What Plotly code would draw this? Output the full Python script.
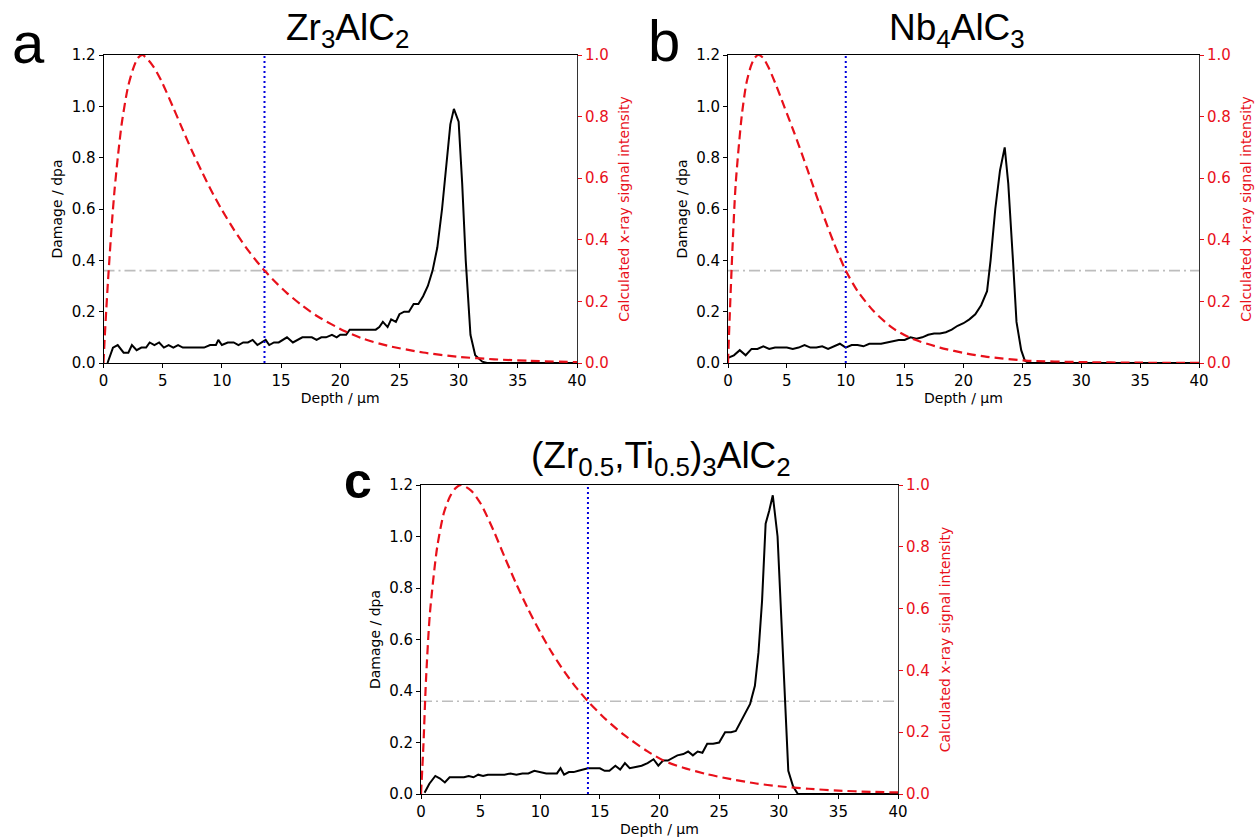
import plotly.graph_objects as go

# ---------------- data ----------------
# Panel a: Zr3AlC2
a_dmg_x = [0.34, 0.8, 1.2, 1.7, 2.1, 2.4, 2.8, 3.2, 3.6, 3.9, 4.3, 4.7, 5.1, 5.5, 5.9, 6.3, 6.7, 7.0, 7.5, 8.0, 8.5,
           9.0, 9.5, 9.7, 10.0, 10.5, 11.0, 11.4, 11.8, 12.2, 12.6, 13.0, 13.4, 13.7, 14.0, 14.4, 14.8, 15.2, 15.5,
           16.0, 16.4, 16.8, 17.2, 17.6, 18.0, 18.4, 18.8, 19.3, 19.7, 20.0, 20.5, 20.8, 21.5, 22.0, 22.5, 23.0,
           23.3, 23.6, 24.0, 24.3, 24.7, 25.0, 25.4, 25.8, 26.2, 26.6, 27.0, 27.4, 27.8, 28.2, 28.6, 29.0, 29.3,
           29.6, 30.0, 30.3, 30.6, 31.0, 31.4, 32.0, 32.4, 35.0, 40.0]
a_dmg_y = [0.0, 0.06, 0.07, 0.04, 0.04, 0.07, 0.05, 0.06, 0.06, 0.08, 0.07, 0.08, 0.06, 0.07, 0.06, 0.07, 0.06, 0.06,
           0.06, 0.06, 0.06, 0.07, 0.07, 0.09, 0.07, 0.08, 0.08, 0.07, 0.08, 0.08, 0.09, 0.07, 0.08, 0.09, 0.07,
           0.08, 0.08, 0.09, 0.10, 0.08, 0.09, 0.10, 0.10, 0.10, 0.09, 0.10, 0.10, 0.11, 0.10, 0.11, 0.11, 0.13,
           0.13, 0.13, 0.13, 0.13, 0.14, 0.16, 0.14, 0.17, 0.16, 0.19, 0.20, 0.20, 0.23, 0.23, 0.26, 0.30, 0.36,
           0.45, 0.60, 0.80, 0.93, 0.99, 0.94, 0.70, 0.40, 0.11, 0.03, 0.005, 0.0, 0.0, 0.0]
a_sig_x = [0.0, 0.1, 0.23, 0.37, 0.54, 0.7, 0.93, 1.2, 1.55, 2.06, 2.5, 2.9, 3.3, 4.17, 4.9, 5.86, 6.7, 7.46, 8.3,
           9.1, 10.0, 11.0, 12.0, 12.8, 13.6, 14.7, 15.5, 16.7, 18.1, 20.4, 22.0, 24.0, 27.0, 30.0, 33.0, 36.0, 40.0]
a_sig_y = [0.0, 0.08, 0.17, 0.26, 0.36, 0.45, 0.56, 0.665, 0.78, 0.895, 0.955, 0.99, 1.0, 0.965, 0.915, 0.832,
           0.757, 0.69, 0.622, 0.56, 0.497, 0.434, 0.377, 0.337, 0.30, 0.256, 0.227, 0.189, 0.151, 0.103, 0.078,
           0.056, 0.034, 0.020, 0.012, 0.007, 0.003]
a_depth_marker = 13.6

# Panel b: Nb4AlC3
b_dmg_x = [0.0, 0.5, 1.0, 1.5, 2.0, 2.5, 3.0, 3.5, 4.0, 4.5, 5.0, 5.5, 6.0, 6.5, 7.0, 7.5, 8.0, 8.5, 9.0, 9.5, 10.0,
           10.5, 11.0, 11.5, 12.0, 13.0, 13.5, 14.0, 14.5, 15.0, 15.5, 16.0, 16.5, 17.0, 17.5, 18.0, 18.5, 19.0,
           19.5, 20.0, 20.5, 21.0, 21.5, 22.0, 22.3, 22.7, 23.1, 23.5, 23.8, 24.2, 24.5, 24.9, 25.2, 25.5, 30.0, 40.0]
b_dmg_y = [0.02, 0.03, 0.05, 0.03, 0.055, 0.055, 0.065, 0.055, 0.06, 0.06, 0.06, 0.055, 0.06, 0.07, 0.06, 0.06,
           0.065, 0.055, 0.065, 0.075, 0.06, 0.07, 0.07, 0.065, 0.075, 0.075, 0.08, 0.085, 0.09, 0.09, 0.10, 0.095,
           0.10, 0.11, 0.115, 0.115, 0.12, 0.13, 0.145, 0.155, 0.17, 0.19, 0.225, 0.28, 0.40, 0.60, 0.75, 0.84,
           0.70, 0.40, 0.16, 0.05, 0.01, 0.0, 0.0, 0.0]
b_sig_x = [0.0, 0.14, 0.37, 0.65, 1.16, 1.56, 1.93, 2.25, 2.58, 3.0, 3.5, 4.0, 4.77, 5.6, 6.47, 7.0, 8.03, 9.0,
           10.0, 11.0, 12.4, 14.0, 15.5, 18.0, 20.5, 22.0, 25.3, 30.0, 35.0, 40.0]
b_sig_y = [0.0, 0.147, 0.364, 0.58, 0.80, 0.908, 0.962, 0.99, 1.0, 0.99, 0.955, 0.91, 0.833, 0.75, 0.658, 0.60,
           0.487, 0.389, 0.30, 0.234, 0.167, 0.113, 0.081, 0.05, 0.029, 0.02, 0.008, 0.003, 0.001, 0.0005]
b_depth_marker = 10.0

# Panel c: (Zr0.5,Ti0.5)3AlC2
c_dmg_x = [0.3, 0.7, 1.2, 1.6, 2.0, 2.4, 2.8, 3.2, 3.6, 4.0, 4.4, 4.8, 5.2, 5.6, 6.0, 6.5, 7.0, 7.5, 8.0, 8.5, 9.0,
           9.5, 10.0, 10.5, 11.0, 11.4, 11.7, 12.0, 12.4, 12.8, 13.2, 13.6, 14.0, 14.5, 15.0, 15.4, 15.8, 16.3,
           16.7, 17.1, 17.5, 18.0, 18.5, 19.0, 19.5, 19.9, 20.3, 20.7, 21.1, 21.5, 22.0, 22.4, 22.8, 23.2, 23.6,
           24.0, 24.5, 25.0, 25.5, 26.0, 26.4, 26.8, 27.2, 27.6, 28.0, 28.3, 28.6, 28.9, 29.2, 29.5, 29.9, 30.2,
           30.5, 30.8, 31.2, 31.6, 35.0, 40.0]
c_dmg_y = [0.005, 0.04, 0.07, 0.06, 0.045, 0.065, 0.065, 0.065, 0.065, 0.07, 0.065, 0.075, 0.07, 0.075, 0.075, 0.075,
           0.075, 0.08, 0.075, 0.08, 0.08, 0.09, 0.085, 0.08, 0.08, 0.08, 0.10, 0.075, 0.085, 0.085, 0.09, 0.095,
           0.10, 0.10, 0.10, 0.09, 0.09, 0.11, 0.095, 0.12, 0.10, 0.105, 0.11, 0.12, 0.135, 0.11, 0.13, 0.13, 0.14,
           0.15, 0.155, 0.165, 0.15, 0.165, 0.16, 0.195, 0.195, 0.20, 0.24, 0.24, 0.245, 0.28, 0.31, 0.35, 0.42,
           0.55, 0.75, 1.05, 1.10, 1.16, 1.00, 0.70, 0.35, 0.09, 0.03, 0.0, 0.0, 0.0]
c_sig_x = [0.0, 0.2, 0.42, 0.75, 1.36, 1.92, 2.42, 2.9, 3.37, 4.2, 5.0, 6.07, 7.0, 8.0, 9.0, 10.0, 11.0, 12.0,
           13.0, 14.0, 15.5, 17.0, 19.0, 20.4, 22.0, 24.0, 26.0, 28.1, 30.0, 32.5, 35.0, 37.7, 40.0]
c_sig_y = [0.0, 0.156, 0.37, 0.586, 0.80, 0.91, 0.962, 0.99, 1.0, 0.982, 0.94, 0.854, 0.768, 0.679, 0.597, 0.523,
           0.456, 0.397, 0.345, 0.30, 0.2415, 0.192, 0.138, 0.107, 0.085, 0.064, 0.048, 0.034, 0.025, 0.017, 0.011,
           0.007, 0.005]
c_depth_marker = 14.0

threshold_dpa = 0.36
x_range = [0, 40]
x_ticks = [0, 5, 10, 15, 20, 25, 30, 35, 40]
y_ticks = [0.0, 0.2, 0.4, 0.6, 0.8, 1.0, 1.2]
y2_ticks = [0.0, 0.2, 0.4, 0.6, 0.8, 1.0]

panel_titles = ["Zr<sub>3</sub>AlC<sub>2</sub>", "Nb<sub>4</sub>AlC<sub>3</sub>",
                "(Zr<sub>0.5</sub>,Ti<sub>0.5</sub>)<sub>3</sub>AlC<sub>2</sub>"]
panel_letters = ["a", "b", "<b>c</b>"]

# ---------------- layout geometry ----------------
W, H = 1260, 840
def px_x(v): return v / W
def px_y(v): return 1 - v / H

panels = [
    dict(xd=[px_x(103.5), px_x(577)], yd=[px_y(363), px_y(55)],
         dx=a_dmg_x, dy=a_dmg_y, sx=a_sig_x, sy=a_sig_y, m=a_depth_marker),
    dict(xd=[px_x(728), px_x(1199)], yd=[px_y(363), px_y(55)],
         dx=b_dmg_x, dy=b_dmg_y, sx=b_sig_x, sy=b_sig_y, m=b_depth_marker),
    dict(xd=[px_x(421), px_x(898)], yd=[px_y(794), px_y(485)],
         dx=c_dmg_x, dy=c_dmg_y, sx=c_sig_x, sy=c_sig_y, m=c_depth_marker),
]

RED = "#e8101a"
TICKFONT = dict(family="DejaVu Sans", size=15, color="black")
TITLEFONT = dict(family="DejaVu Sans", size=14, color="black")

fig = go.Figure()
layout = dict(width=W, height=H, margin=dict(l=0, r=0, t=0, b=0), template="none",
              paper_bgcolor="white", plot_bgcolor="white", showlegend=False)

for i, p in enumerate(panels):
    xn = "" if i == 0 else str(i + 1)
    yl = str(2 * i + 1) if i > 0 else ""
    yr = str(2 * i + 2)
    xa, ya_l, ya_r = "x" + xn, "y" + yl, "y" + yr

    fig.add_trace(go.Scatter(x=x_range, y=[threshold_dpa, threshold_dpa], xaxis=xa, yaxis=ya_l, mode="lines",
                             line=dict(color="#bdbdbd", width=1.6, dash="11px,4px,2px,4px"), hoverinfo="skip"))
    fig.add_trace(go.Scatter(x=p["dx"], y=p["dy"], xaxis=xa, yaxis=ya_l, mode="lines",
                             line=dict(color="black", width=2)))
    fig.add_trace(go.Scatter(x=[p["m"], p["m"]], y=[0, 1.2], xaxis=xa, yaxis=ya_l, mode="lines",
                             line=dict(color="#0000dd", width=2, dash="2px,3px"), hoverinfo="skip"))
    fig.add_trace(go.Scatter(x=p["sx"], y=p["sy"], xaxis=xa, yaxis=ya_r, mode="lines",
                             line=dict(color=RED, width=2.2, dash="9px,5px", shape="spline", smoothing=0.7)))

    layout["xaxis" + xn] = dict(domain=p["xd"], range=x_range, anchor=ya_l, tickvals=x_ticks,
                                showline=True, linecolor="black", linewidth=1, mirror=True,
                                ticks="outside", ticklen=4, tickwidth=1, tickcolor="black",
                                showgrid=False, zeroline=False, tickfont=TICKFONT,
                                title=dict(text="Depth / µm", font=TITLEFONT, standoff=4), automargin=False)
    layout["yaxis" + yl] = dict(domain=p["yd"], range=[0, 1.2], anchor=xa, tickvals=y_ticks, tickformat=".1f",
                                showline=True, linecolor="black", linewidth=1,
                                ticks="outside", ticklen=4, tickwidth=1, tickcolor="black",
                                showgrid=False, zeroline=False, tickfont=TICKFONT,
                                title=dict(text="Damage / dpa", font=TITLEFONT, standoff=5), automargin=False)
    layout["yaxis" + yr] = dict(domain=p["yd"], range=[0, 1.0], anchor=xa, overlaying=ya_l, side="right",
                                tickvals=y2_ticks, tickformat=".1f",
                                showline=True, linecolor="#333333", linewidth=1,
                                ticks="outside", ticklen=4, tickwidth=1, tickcolor=RED,
                                showgrid=False, zeroline=False, tickfont=dict(family="DejaVu Sans", size=15, color=RED),
                                title=dict(text="Calculated x-ray signal intensity",
                                           font=dict(family="DejaVu Sans", size=14, color=RED), standoff=11),
                                automargin=False)

annotations = []
title_pos = [(347, 30), (957, 30), (661, 458)]
letter_pos = [(28, 42), (664, 40), (358, 481)]
for i in range(3):
    annotations.append(dict(text=panel_titles[i], x=px_x(title_pos[i][0]), y=px_y(title_pos[i][1]),
                            xref="paper", yref="paper", showarrow=False, xanchor="center", yanchor="middle",
                            font=dict(family="Liberation Sans", size=37, color="black")))
    annotations.append(dict(text=panel_letters[i], x=px_x(letter_pos[i][0]), y=px_y(letter_pos[i][1]),
                            xref="paper", yref="paper", showarrow=False, xanchor="center", yanchor="middle",
                            font=dict(family="Liberation Sans", size=58 if i < 2 else 50, color="black")))
layout["annotations"] = annotations
fig.update_layout(**layout)
fig.write_html("out.html", config={"displayModeBar": False},
               post_script="document.body.style.margin='0px';")
